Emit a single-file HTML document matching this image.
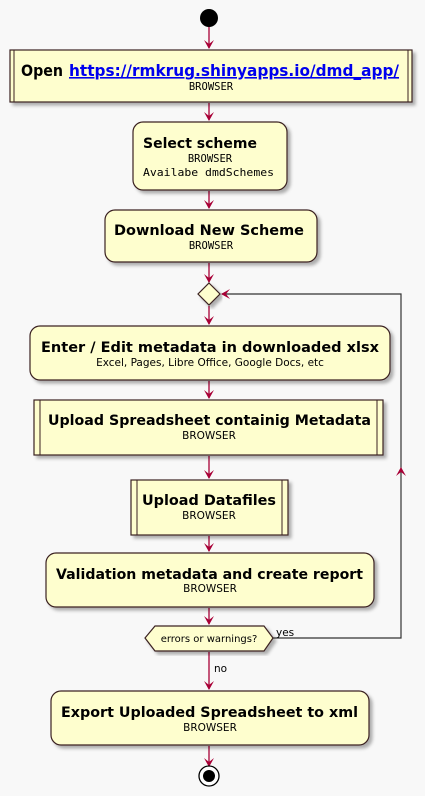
<!DOCTYPE html>
<html><head><style>
html,body{margin:0;padding:0;background:#f8f8f8;}
svg{display:block;}
.t{font-family:"DejaVu Sans","Liberation Sans",sans-serif;font-weight:bold;font-size:14.5px;fill:#000;}
.s{font-family:"DejaVu Sans Mono","Liberation Mono",monospace;font-size:10.5px;fill:#000;}
.p{font-family:"DejaVu Sans","Liberation Sans",sans-serif;font-size:10.5px;fill:#000;}
.b{fill:#fefece;stroke:#3a2020;stroke-width:1.2;filter:url(#sh);}
.a{stroke:#a80036;stroke-width:1.3;fill:none;}
.h{fill:#a80036;}
</style></head><body>
<svg width="425" height="796" viewBox="0 0 425 796" xmlns="http://www.w3.org/2000/svg">
<defs><filter id="sh" x="-5%" y="-10%" width="115%" height="130%"><feDropShadow dx="3" dy="3" stdDeviation="1.5" flood-color="#000" flood-opacity="0.3"/></filter></defs>
<g class="a">
<line x1="209" y1="26" x2="209" y2="48"/>
<line x1="209" y1="103" x2="209" y2="120"/>
<line x1="209" y1="191" x2="209" y2="208"/>
<line x1="209" y1="263" x2="209" y2="282"/>
<line x1="209" y1="306" x2="209" y2="324"/>
<line x1="209" y1="381" x2="209" y2="398"/>
<line x1="209" y1="456" x2="209" y2="478"/>
<line x1="209" y1="536" x2="209" y2="551"/>
<line x1="209" y1="608" x2="209" y2="624"/>
<line x1="209" y1="652" x2="209" y2="689"/>
<line x1="209" y1="746" x2="209" y2="766"/>
</g>
<polyline points="272,638 401,638 401,294 222,294" fill="none" stroke="#333" stroke-width="1.2"/>
<g class="h">
<polygon points="204,40 209,49 214,40 209,44"/>
<polygon points="204,112 209,121 214,112 209,116"/>
<polygon points="204,200 209,209 214,200 209,204"/>
<polygon points="204,274 209,283 214,274 209,278"/>
<polygon points="204,316 209,325 214,316 209,320"/>
<polygon points="204,390 209,399 214,390 209,394"/>
<polygon points="204,470 209,479 214,470 209,474"/>
<polygon points="204,543 209,552 214,543 209,547"/>
<polygon points="204,616 209,625 214,616 209,620"/>
<polygon points="204,681 209,690 214,681 209,685"/>
<polygon points="204,758 209,767 214,758 209,762"/>
<polygon points="396,476 401,467 406,476 401,472"/>
<polygon points="230,289 221,294 230,299 226,294"/>
</g>
<circle cx="209" cy="18" r="9" fill="#000"/>
<rect class="b" x="10" y="50" width="402" height="52"/>
<line x1="14" y1="50" x2="14" y2="102" stroke="#3a2020"/>
<line x1="408" y1="50" x2="408" y2="102" stroke="#3a2020"/>
<text class="t" x="21" y="76" style="font-size:16px" textLength="42" lengthAdjust="spacingAndGlyphs">Open</text>
<text class="t" x="69" y="76" style="font-size:16px;fill:#0000ee;text-decoration:underline" textLength="330" lengthAdjust="spacingAndGlyphs">https://rmkrug.shinyapps.io/dmd_app/</text>
<text class="s" x="211" y="90" text-anchor="middle">BROWSER</text>
<rect class="b" x="133" y="122" width="154" height="68" rx="10"/>
<text class="t" x="143" y="148" textLength="114" lengthAdjust="spacingAndGlyphs">Select scheme</text>
<text class="s" x="210" y="162" text-anchor="middle">BROWSER</text>
<text class="s" x="143" y="176" textLength="131" lengthAdjust="spacingAndGlyphs">Availabe dmdSchemes</text>
<rect class="b" x="105" y="210" width="212" height="52" rx="10"/>
<text class="t" x="114" y="235" textLength="190" lengthAdjust="spacingAndGlyphs">Download New Scheme</text>
<text class="s" x="211" y="249" text-anchor="middle">BROWSER</text>
<polygon points="209,283 220,294 209,305 198,294" fill="#fefece" stroke="#3a2020" stroke-width="1.2" filter="url(#sh)"/>
<rect class="b" x="30" y="326" width="360" height="54" rx="10"/>
<text class="t" x="41" y="352" textLength="338" lengthAdjust="spacingAndGlyphs">Enter / Edit metadata in downloaded xlsx</text>
<text class="p" x="210" y="366" text-anchor="middle">Excel, Pages, Libre Office, Google Docs, etc</text>
<rect class="b" x="34" y="400" width="349" height="55"/>
<line x1="40" y1="400" x2="40" y2="455" stroke="#3a2020"/>
<line x1="377" y1="400" x2="377" y2="455" stroke="#3a2020"/>
<text class="t" x="48" y="425" textLength="323" lengthAdjust="spacingAndGlyphs">Upload Spreadsheet containig Metadata</text>
<text class="p" x="209" y="439" text-anchor="middle">BROWSER</text>
<rect class="b" x="131" y="480" width="157" height="55"/>
<line x1="137" y1="480" x2="137" y2="535" stroke="#3a2020"/>
<line x1="282" y1="480" x2="282" y2="535" stroke="#3a2020"/>
<text class="t" x="142" y="505" textLength="134" lengthAdjust="spacingAndGlyphs">Upload Datafiles</text>
<text class="p" x="209" y="519" text-anchor="middle">BROWSER</text>
<rect class="b" x="46" y="553" width="328" height="54" rx="10"/>
<text class="t" x="56" y="579" textLength="307" lengthAdjust="spacingAndGlyphs">Validation metadata and create report</text>
<text class="p" x="210" y="592" text-anchor="middle">BROWSER</text>
<polygon points="145,638 155,626 264,626 273,638 264,651 155,651" fill="#fefece" stroke="#3a2020" stroke-width="1.2" filter="url(#sh)"/>
<text class="p" x="209" y="642" text-anchor="middle" style="font-size:10px">errors or warnings?</text>
<text class="p" x="276" y="636">yes</text>
<text class="p" x="214" y="672">no</text>
<rect class="b" x="51" y="691" width="318" height="54" rx="10"/>
<text class="t" x="61" y="717" textLength="297" lengthAdjust="spacingAndGlyphs">Export Uploaded Spreadsheet to xml</text>
<text class="p" x="210" y="731" text-anchor="middle">BROWSER</text>
<circle cx="209" cy="776" r="10" fill="#fff" stroke="#000" stroke-width="1.3"/>
<circle cx="209" cy="776" r="6" fill="#000"/>
</svg>
</body></html>
